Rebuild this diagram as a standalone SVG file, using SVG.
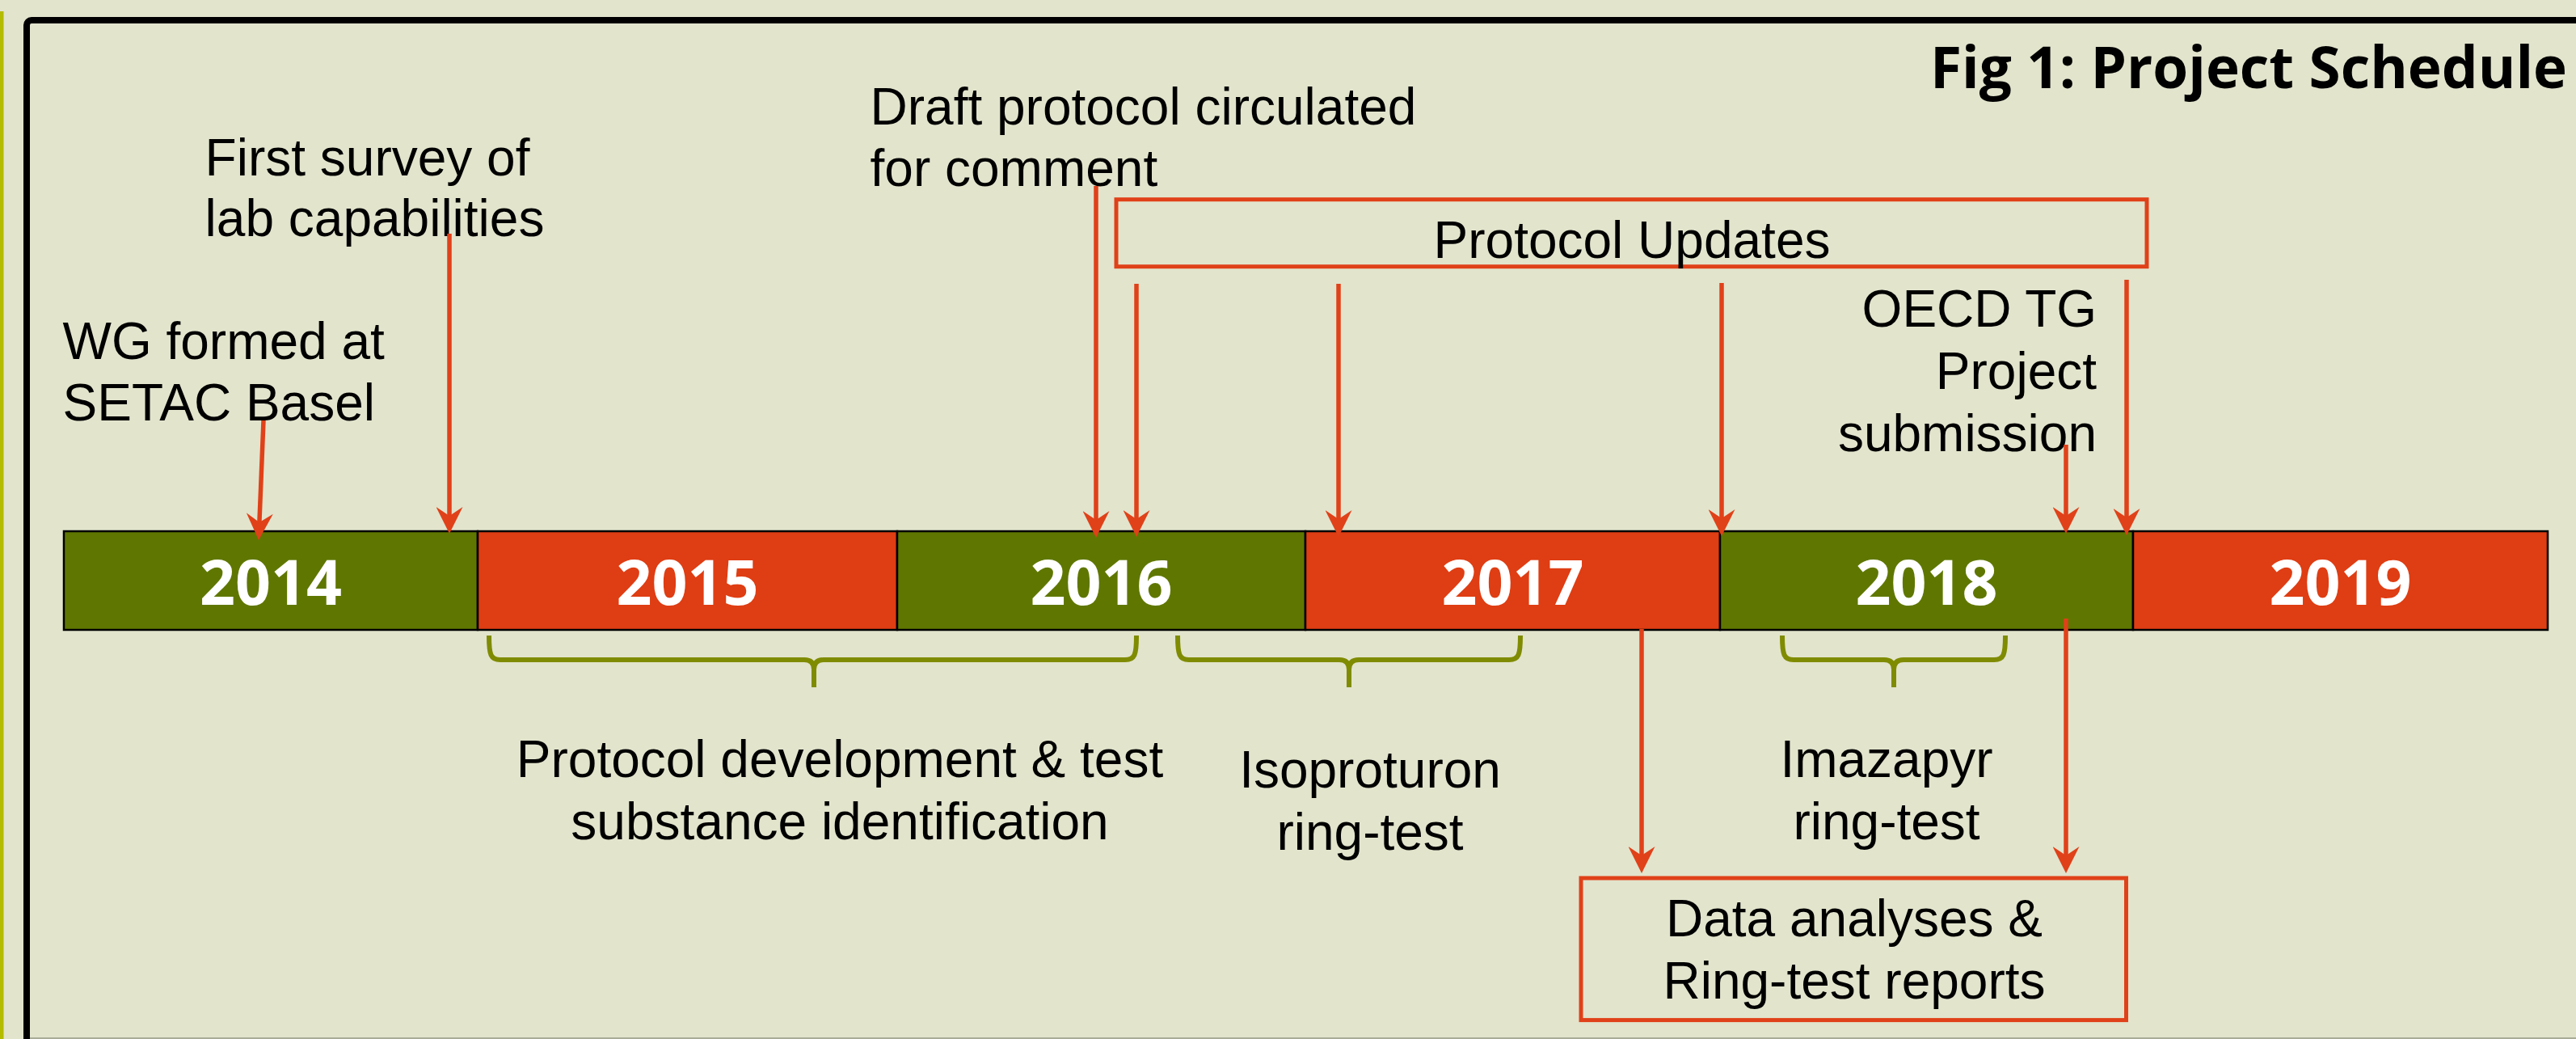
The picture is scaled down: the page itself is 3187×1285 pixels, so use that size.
<svg xmlns="http://www.w3.org/2000/svg" width="3187" height="1285" viewBox="0 0 3187 1285">
  <defs>
    <marker id="ah" markerUnits="userSpaceOnUse" viewBox="0 0 33 33" refX="11" refY="16.5" markerWidth="33" markerHeight="33" orient="auto">
      <path d="M0,0 L33,16.5 L0,33 L11,16.5 Z" fill="#e04119"/>
    </marker>
  </defs>
  <style>
    .lbl { font-family: "Liberation Sans", Arial, sans-serif; font-size: 64px; fill: #000; }
    .mid { text-anchor: middle; }
    .end { text-anchor: end; }
    .yr { font-family: "Open Sans", "Liberation Sans", sans-serif; font-weight: bold; font-size: 77px; fill: #fff; text-anchor: middle; }
    .title { font-family: "Open Sans", "Liberation Sans", sans-serif; font-weight: bold; font-size: 71px; fill: #000; }
    .seg { stroke: #000; stroke-width: 2.5; }
    .g { fill: #5f7700; }
    .r { fill: #df3d13; }
    .arrow { stroke: #e04119; stroke-width: 5.5; fill: none; marker-end: url(#ah); }
    .box { fill: none; stroke: #e04119; stroke-width: 5; }
    .brace { fill: none; stroke: #7f8b00; stroke-width: 6; stroke-linejoin: round; }
  </style>

  <rect x="0" y="0" width="3187" height="1285" fill="#e2e4cc"/>
  <rect x="0" y="14" width="4.5" height="1271" fill="#b4bc00"/>
  <rect x="33" y="25" width="3300" height="1400" rx="6" fill="none" stroke="#000" stroke-width="8"/>
  <line x1="37" y1="1284" x2="3187" y2="1284" stroke="#a9ad98" stroke-width="2"/>

  <text id="title" class="title" x="2388" y="109" textLength="788" lengthAdjust="spacingAndGlyphs">Fig 1: Project Schedule</text>

  <g id="timeline">
    <g id="y2014"><rect class="seg g" x="79" y="657" width="512" height="122"/><text class="yr" x="335" y="748">2014</text></g>
    <g id="y2015"><rect class="seg r" x="591" y="657" width="519" height="122"/><text class="yr" x="850.5" y="748">2015</text></g>
    <g id="y2016"><rect class="seg g" x="1110" y="657" width="505" height="122"/><text class="yr" x="1362.5" y="748">2016</text></g>
    <g id="y2017"><rect class="seg r" x="1615" y="657" width="513" height="122"/><text class="yr" x="1871.5" y="748">2017</text></g>
    <g id="y2018"><rect class="seg g" x="2128" y="657" width="511" height="122"/><text class="yr" x="2383.5" y="748">2018</text></g>
    <g id="y2019"><rect class="seg r" x="2639" y="657" width="513" height="122"/><text class="yr" x="2895.5" y="748">2019</text></g>
  </g>

  <g id="wg-formed">
    <text class="lbl" x="77.5" y="444">WG formed at</text>
    <text class="lbl" x="77.5" y="520">SETAC Basel</text>
  </g>
  <g id="first-survey">
    <text class="lbl" x="253.6" y="216.5">First survey of</text>
    <text class="lbl" x="253.6" y="292">lab capabilities</text>
  </g>
  <g id="draft-protocol">
    <text class="lbl" x="1076.5" y="153.6">Draft protocol circulated</text>
    <text class="lbl" x="1076.5" y="230">for comment</text>
  </g>
  <g id="protocol-updates">
    <rect class="box" x="1381" y="246.7" width="1275" height="83"/>
    <text class="lbl mid" x="2019" y="319">Protocol Updates</text>
  </g>
  <g id="oecd">
    <text class="lbl end" x="2594" y="404">OECD TG</text>
    <text class="lbl end" x="2594" y="481">Project</text>
    <text class="lbl end" x="2594" y="558">submission</text>
  </g>
  <g id="protocol-dev">
    <path class="brace" d="M605,786 C605,810 607,816 619,816 L995,816 C1003,816 1007,820 1007,828 L1007,850"/>
    <path class="brace" d="M1406,786 C1406,810 1404,816 1392,816 L1019,816 C1011,816 1007,820 1007,828 L1007,850"/>
    <text class="lbl mid" x="1039" y="961">Protocol development &amp; test</text>
    <text class="lbl mid" x="1039" y="1038">substance identification</text>
  </g>
  <g id="isoproturon">
    <path class="brace" d="M1457,786 C1457,810 1459,816 1471,816 L1657,816 C1665,816 1669,820 1669,828 L1669,850"/>
    <path class="brace" d="M1881,786 C1881,810 1879,816 1867,816 L1681,816 C1673,816 1669,820 1669,828 L1669,850"/>
    <text class="lbl mid" x="1695" y="974">Isoproturon</text>
    <text class="lbl mid" x="1695" y="1051">ring-test</text>
  </g>
  <g id="imazapyr">
    <path class="brace" d="M2205,786 C2205,810 2207,816 2219,816 L2331,816 C2339,816 2343,820 2343,828 L2343,850"/>
    <path class="brace" d="M2481,786 C2481,810 2479,816 2467,816 L2355,816 C2347,816 2343,820 2343,828 L2343,850"/>
    <text class="lbl mid" x="2334" y="961">Imazapyr</text>
    <text class="lbl mid" x="2334" y="1038">ring-test</text>
  </g>
  <g id="data-analyses">
    <rect class="box" x="1956" y="1086" width="674.5" height="175.6"/>
    <text class="lbl mid" x="2294" y="1158">Data analyses &amp;</text>
    <text class="lbl mid" x="2294" y="1235">Ring-test reports</text>
  </g>

  <g id="connectors">
    <line class="arrow" x1="326" y1="520" x2="320.9" y2="646"/>
    <line class="arrow" x1="556" y1="289" x2="556" y2="638"/>
    <line class="arrow" x1="1356" y1="230" x2="1356" y2="643"/>
    <line class="arrow" x1="1406" y1="351" x2="1406" y2="642"/>
    <line class="arrow" x1="1656" y1="351" x2="1656" y2="642"/>
    <line class="arrow" x1="2130" y1="350" x2="2130" y2="641"/>
    <line class="arrow" x1="2556" y1="550" x2="2556" y2="638"/>
    <line class="arrow" x1="2631" y1="346" x2="2631" y2="640"/>
    <line class="arrow" x1="2031" y1="778" x2="2031" y2="1058"/>
    <line class="arrow" x1="2556" y1="765" x2="2556" y2="1058"/>
  </g>
</svg>
